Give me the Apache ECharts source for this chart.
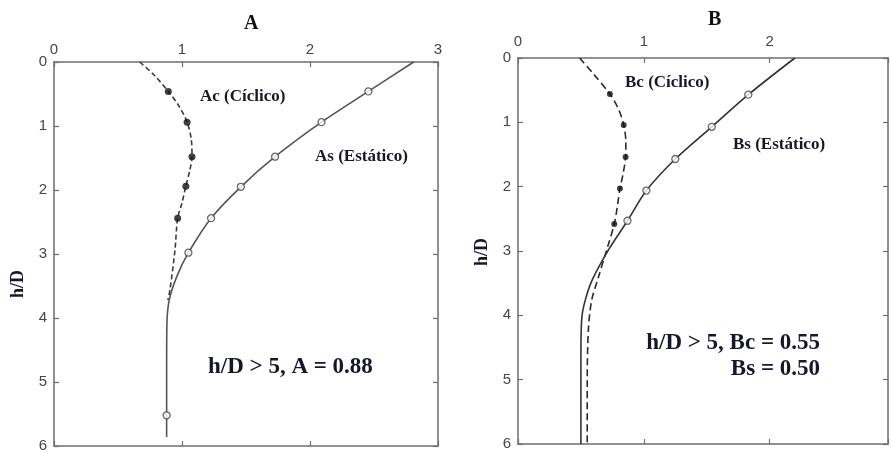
<!DOCTYPE html>
<html>
<head>
<meta charset="utf-8">
<script src="https://cdn.jsdelivr.net/npm/echarts@6/dist/echarts.min.js"></script>
<style>
  html, body { margin: 0; padding: 0; background: #fff; }
  #chart { width: 891px; height: 454px; }
</style>
</head>
<body>
<div id="chart"></div>
<script>
// Profiles of the coefficient vs. relative depth h/D, [coefficient, h/D]
// Panel A
const acCurve = [[0.67, 0], [0.78, 0.2], [0.893, 0.46], [0.98, 0.7], [1.04, 0.94], [1.072, 1.2],
  [1.078, 1.48], [1.06, 1.7], [1.03, 1.94], [1.0, 2.2], [0.966, 2.44], [0.945, 2.94],
  [0.906, 3.56], [0.89, 3.72]];
const acPoints = [[0.893, 0.46], [1.04, 0.94], [1.078, 1.48], [1.03, 1.94], [0.966, 2.44]];
const asCurve = [[2.81, 0], [2.456, 0.46], [2.09, 0.94], [1.727, 1.48], [1.46, 1.95], [1.227, 2.44],
  [1.05, 2.98], [0.96, 3.35], [0.9, 3.72], [0.882, 4.1], [0.88, 4.8], [0.88, 5.52], [0.88, 5.86]];
const asPoints = [[2.456, 0.46], [2.09, 0.94], [1.727, 1.48], [1.46, 1.95], [1.227, 2.44],
  [1.05, 2.98], [0.88, 5.52]];
// Panel B
const bcCurve = [[0.49, 0], [0.6, 0.25], [0.73, 0.56], [0.8, 0.8], [0.84, 1.04], [0.857, 1.3],
  [0.855, 1.54], [0.835, 1.8], [0.81, 2.03], [0.79, 2.3], [0.765, 2.58], [0.71, 2.95],
  [0.64, 3.4], [0.585, 3.77], [0.56, 4.2], [0.55, 5.0], [0.55, 6.0]];
const bcPoints = [[0.73, 0.56], [0.84, 1.04], [0.855, 1.54], [0.81, 2.03], [0.765, 2.58]];
const bsCurve = [[2.2, 0], [1.83, 0.57], [1.54, 1.07], [1.25, 1.57], [1.02, 2.06], [0.87, 2.53],
  [0.72, 2.98], [0.59, 3.45], [0.535, 3.76], [0.507, 4.04], [0.5, 4.6], [0.5, 6.0]];
const bsPoints = [[1.83, 0.57], [1.54, 1.07], [1.25, 1.57], [1.02, 2.06], [0.87, 2.53]];

const panelTitles = ['A', 'B'];
const depthLabel = 'h/D';
const seriesNames = ['Ac (Cíclico)', 'As (Estático)', 'Bc (Cíclico)', 'Bs (Estático)'];
const notes = ['h/D > 5, A = 0.88', 'h/D > 5, Bc = 0.55', 'Bs = 0.50'];

const axisColor = '#6e6e6e';
const tickFont = { fontFamily: 'Liberation Sans, Arial, sans-serif', fontSize: 15, color: '#454545' };
const serif = 'Liberation Serif, Times New Roman, serif';
const textColor = '#17172b';

function xAxisPair(grid, max, labelMargin) {
  const common = {
    gridIndex: grid, type: 'value', min: 0, max: max, interval: 1,
    axisLine: { show: true, onZero: false, lineStyle: { color: axisColor, width: 1.5 } },
    axisTick: { show: true, inside: true, length: 5, lineStyle: { color: axisColor, width: 1.2 } },
    splitLine: { show: false }
  };
  return [
    Object.assign({}, common, {
      position: 'top',
      axisLabel: Object.assign({ margin: labelMargin, showMaxLabel: true,
        formatter: v => (Math.abs(v - Math.round(v)) < 1e-9 ? String(Math.round(v)) : '') }, tickFont)
    }),
    Object.assign({}, common, { position: 'bottom', axisLabel: { show: false } })
  ];
}
function yAxisPair(grid) {
  const common = {
    gridIndex: grid, type: 'value', min: 0, max: 6, interval: 1, inverse: true,
    axisLine: { show: true, onZero: false, lineStyle: { color: axisColor, width: 1.5 } },
    axisTick: { show: true, inside: true, length: 5, lineStyle: { color: axisColor, width: 1.2 } },
    splitLine: { show: false }
  };
  return [
    Object.assign({}, common, { position: 'left', axisLabel: Object.assign({ margin: 7 }, tickFont) }),
    Object.assign({}, common, { position: 'right', axisLabel: { show: false } })
  ];
}

function curve(name, data, xi, yi, color, type) {
  return {
    name: name, type: 'line', xAxisIndex: xi, yAxisIndex: yi, data: data,
    smooth: 0.3, showSymbol: false, symbol: 'none',
    lineStyle: { color: color, width: 1.6, type: type }, z: 2, silent: true
  };
}
function marks(name, data, xi, yi, filled, size) {
  return {
    name: name, type: 'scatter', xAxisIndex: xi, yAxisIndex: yi, data: data,
    symbol: 'circle', symbolSize: size, z: 3, silent: true,
    itemStyle: filled ? { color: '#111', borderColor: '#111', borderWidth: 0 }
                      : { color: '#fff', borderColor: '#444', borderWidth: 1.3 }
  };
}

const chart = echarts.init(document.getElementById('chart'), null, { renderer: 'canvas' });
chart.setOption({
  backgroundColor: '#ffffff',
  animation: false,
  grid: [
    { left: 54, top: 62, width: 384, height: 384 },
    { left: 518, top: 58, width: 376, height: 386 }
  ],
  xAxis: [].concat(xAxisPair(0, 3, 5), xAxisPair(1, 2.94, 9)),
  yAxis: [].concat(yAxisPair(0), yAxisPair(1)),
  series: [
    curve(seriesNames[0], acCurve, 0, 0, '#3a3a3a', [5, 3]),
    curve(seriesNames[1], asCurve, 0, 0, '#555555', 'solid'),
    marks(seriesNames[0], acPoints, 0, 0, true, 7),
    marks(seriesNames[1], asPoints, 0, 0, false, 7),
    curve(seriesNames[2], bcCurve, 2, 2, '#2a2a2a', [7, 4]),
    curve(seriesNames[3], bsCurve, 2, 2, '#333333', 'solid'),
    marks(seriesNames[2], bcPoints, 2, 2, true, 6),
    marks(seriesNames[3], bsPoints, 2, 2, false, 7)
  ],
  graphic: [
    { type: 'text', left: 244, top: 14, style: { text: panelTitles[0], font: 'bold 20px ' + serif, fill: '#111' } },
    { type: 'text', left: 708, top: 10, style: { text: panelTitles[1], font: 'bold 20px ' + serif, fill: '#111' } },
    { type: 'text', x: 18, y: 284, rotation: Math.PI / 2,
      style: { text: depthLabel, font: 'bold 18px ' + serif, fill: textColor, align: 'center', verticalAlign: 'middle' } },
    { type: 'text', x: 482, y: 252, rotation: Math.PI / 2,
      style: { text: depthLabel, font: 'bold 18px ' + serif, fill: textColor, align: 'center', verticalAlign: 'middle' } },
    { type: 'text', x: 200, y: 97,
      style: { text: seriesNames[0], font: 'bold 17px ' + serif, fill: textColor, align: 'left', verticalAlign: 'middle' } },
    { type: 'text', x: 315, y: 157,
      style: { text: seriesNames[1], font: 'bold 17px ' + serif, fill: textColor, align: 'left', verticalAlign: 'middle' } },
    { type: 'text', x: 625, y: 83,
      style: { text: seriesNames[2], font: 'bold 17px ' + serif, fill: textColor, align: 'left', verticalAlign: 'middle' } },
    { type: 'text', x: 733, y: 145,
      style: { text: seriesNames[3], font: 'bold 17px ' + serif, fill: textColor, align: 'left', verticalAlign: 'middle' } },
    { type: 'text', x: 208, y: 367,
      style: { text: notes[0], font: 'bold 23px ' + serif, fill: textColor, align: 'left', verticalAlign: 'middle' } },
    { type: 'text', x: 820, y: 343,
      style: { text: notes[1], font: 'bold 23px ' + serif, fill: textColor, align: 'right', verticalAlign: 'middle' } },
    { type: 'text', x: 820, y: 369,
      style: { text: notes[2], font: 'bold 23px ' + serif, fill: textColor, align: 'right', verticalAlign: 'middle' } }
  ]
});
</script>
</body>
</html>
